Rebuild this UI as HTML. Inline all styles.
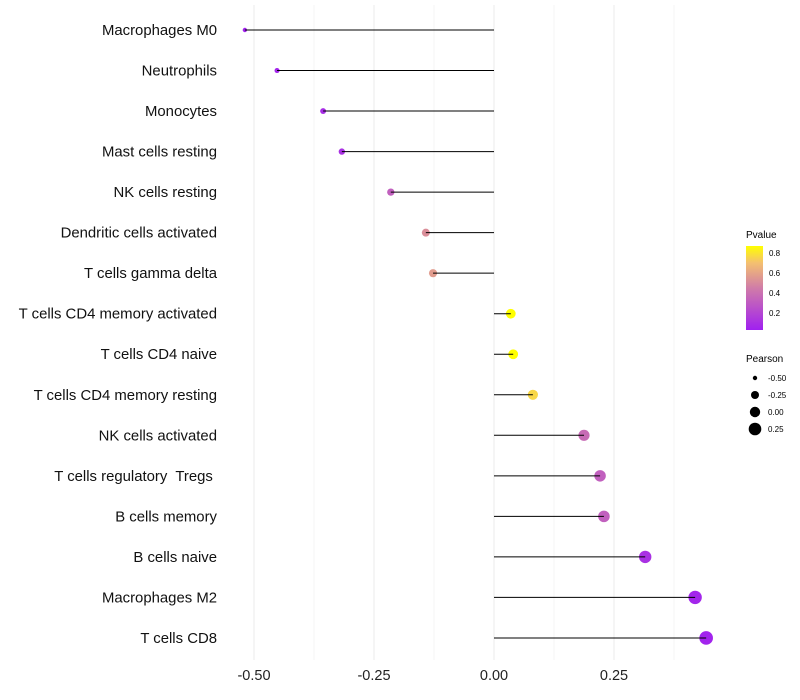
<!DOCTYPE html>
<html><head><meta charset="utf-8"><style>body{margin:0;background:#fff}svg{display:block;font-family:"Liberation Sans",sans-serif}text{white-space:pre}</style></head>
<body>
<svg id="chart" width="800" height="700">
<defs><linearGradient id="pg" x1="0" y1="1" x2="0" y2="0">
<stop offset="0" stop-color="#A020F0"/><stop offset="0.5" stop-color="#D07CA8"/><stop offset="0.8" stop-color="#F4C070"/><stop offset="1" stop-color="#FFFF00"/></linearGradient></defs>
<g id="grid"></g><g id="marks"></g><g id="labels"></g>
<g>
<text x="746" y="238" font-size="10">Pvalue</text>
<rect x="746" y="246" width="17" height="84" fill="url(#pg)"/>
<text x="769" y="256" font-size="8">0.8</text><text x="769" y="276" font-size="8">0.6</text>
<text x="769" y="296" font-size="8">0.4</text><text x="769" y="316" font-size="8">0.2</text>
</g>
<g>
<text x="746" y="362" font-size="10">Pearson</text>
<circle cx="755" cy="378" r="2.2"/><text x="768" y="381" font-size="8">-0.50</text>
<circle cx="755" cy="395" r="4"/><text x="768" y="398" font-size="8">-0.25</text>
<circle cx="755" cy="412" r="5.2"/><text x="768" y="415" font-size="8">0.00</text>
<circle cx="755" cy="429" r="6.3"/><text x="768" y="432" font-size="8">0.25</text>
</g>
</svg>
<script>
const categories=["Macrophages M0","Neutrophils","Monocytes","Mast cells resting","NK cells resting","Dendritic cells activated","T cells gamma delta","T cells CD4 memory activated","T cells CD4 naive","T cells CD4 memory resting","NK cells activated","T cells regulatory  Tregs ","B cells memory","B cells naive","Macrophages M2","T cells CD8"];
const pearson=[-0.519,-0.452,-0.356,-0.317,-0.215,-0.142,-0.127,0.035,0.040,0.081,0.1875,0.221,0.229,0.315,0.419,0.442];
const pvalue=[0.01,0.03,0.06,0.08,0.3,0.5,0.55,0.86,0.86,0.75,0.35,0.3,0.3,0.08,0.03,0.02];
const ticks=[-0.5,-0.25,0,0.25];
const tickLabels=["-0.50","-0.25","0.00","0.25"];
const NS="http://www.w3.org/2000/svg";
const x=v=>494+v*480, y=i=>30+i*40.53;
const r=v=>2.2+(v+0.52)/0.96*4.6;
function col(p){const t=Math.min(p/0.86,1);const s=[[0,[160,32,240]],[0.5,[208,124,168]],[0.8,[244,192,112]],[1,[255,255,0]]];
for(let k=1;k<s.length;k++){if(t<=s[k][0]){const a=s[k-1],b=s[k],f=(t-a[0])/(b[0]-a[0]);return `rgb(${a[1].map((c,j)=>Math.round(c+(b[1][j]-c)*f)).join(',')})`;}}}
function mk(t,a,p){const e=document.createElementNS(NS,t);for(const k in a)e.setAttribute(k,a[k]);p.appendChild(e);return e;}
const G=document.getElementById('grid'),M=document.getElementById('marks'),L=document.getElementById('labels');
[-0.5,-0.375,-0.25,-0.125,0,0.125,0.25,0.375].forEach(v=>{const g=mk('line',{x1:x(v),x2:x(v),y1:5,y2:660,stroke:Number.isInteger(v*4)?'#ebebeb':'#f4f4f4','stroke-width':1},G);

});
ticks.forEach((v,i)=>{const t=mk('text',{x:x(v),y:680,'font-size':14.5,'text-anchor':'middle',fill:'#222'},L);t.textContent=tickLabels[i];

});
categories.forEach((c,i)=>{const t=mk('text',{x:217,y:y(i)+5,'font-size':14.9,'text-anchor':'end',fill:'#111'},L);t.textContent=c;


const d=mk('circle',{cx:x(pearson[i]),cy:y(i),r:r(pearson[i]),fill:col(pvalue[i])},M);


const ln=mk('line',{x1:x(0),x2:x(pearson[i]),y1:y(i),y2:y(i),stroke:'#000','stroke-width':1},M);

});
</script>
</body></html>
